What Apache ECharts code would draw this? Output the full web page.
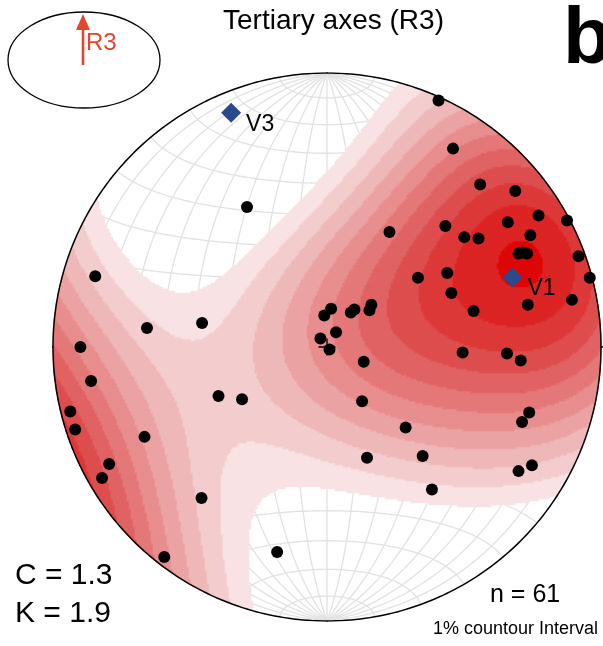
<!DOCTYPE html>
<html><head><meta charset="utf-8">
<script src="https://cdn.jsdelivr.net/npm/echarts@6/dist/echarts.min.js"></script>
<style>html,body{margin:0;padding:0;background:#fff}#c{width:603px;height:646px}</style>
</head><body><div id="c"></div>
<script>
// R3 axes: position in the lower-hemisphere equal-area net, in primitive radii (+x east, +y north)
const axisEast = [-0.292,-0.846,-0.657,-0.456,-0.900,0.407,0.460,0.559,0.687,0.772,0.876,0.660,0.742,0.432,0.501,0.553,0.699,0.715,0.730,0.918,0.959,0.228,0.332,0.439,0.454,0.733,0.894,0.535,0.162,0.155,0.100,0.087,0.015,-0.010,0.033,-0.024,0.009,0.495,0.657,0.707,0.134,0.128,0.287,0.738,0.712,0.146,0.349,0.748,0.699,0.383,-0.861,-0.937,-0.919,-0.666,-0.795,-0.821,-0.396,-0.310,-0.458,-0.594,-0.182];
const axisNorth = [0.511,0.258,0.069,0.088,0.000,0.900,0.724,0.593,0.569,0.480,0.462,0.455,0.408,0.442,0.401,0.396,0.341,0.345,0.341,0.331,0.253,0.420,0.253,0.270,0.197,0.154,0.172,0.131,0.154,0.134,0.137,0.126,0.140,0.115,0.054,0.031,-0.009,-0.020,-0.024,-0.049,-0.054,-0.198,-0.294,-0.239,-0.274,-0.404,-0.398,-0.432,-0.453,-0.520,-0.124,-0.235,-0.301,-0.328,-0.427,-0.478,-0.179,-0.191,-0.551,-0.766,-0.748];
const eigenLabels = ['V1','V3'];
const eigenEast = [0.677,-0.350];
const eigenNorth = [0.255,0.855];
const levelColors = ['#f8e2e3','#f3cdce','#efb8b8','#eba3a3','#e78e8e','#e47878','#e16363','#df4e4e','#dd3939','#dc2424','#de0707'];
const titleText = 'Tertiary axes (R3)';
const statLines = ['C = 1.3','K = 1.9'];
const countText = 'n = 61';
const intervalText = '1% countour Interval';

const KAPPA = 4, BASE = 0.733, STEP = 0.1054;
const N = 274;
const FONT = '"Liberation Sans", Arial, Helvetica, sans-serif';
const R = 274, CX = 327, CY = 347;

function vec(x, y) {
  const r2 = x * x + y * y;
  const f = Math.sqrt(Math.max(0, 2 - r2));
  return [x * f, y * f, Math.max(0, 1 - r2)];
}
function proj(v) {
  const f = 1 / Math.sqrt(1 + Math.max(0, v[2]));
  return [v[0] * f, v[1] * f];
}
const pts = axisEast.map((e, i) => vec(e, axisNorth[i]));
function density(x, y, k) {
  const u = vec(x, y);
  let s = 0;
  for (const v of pts) {
    const c = Math.abs(u[0] * v[0] + u[1] * v[1] + u[2] * v[2]);
    s += Math.exp(k * (c - 1));
  }
  return s * k / ((1 - Math.exp(-k)) * pts.length);
}

const netLines = [];
const deg = Math.PI / 180;
for (let d = 10; d <= 90; d += 10) {
  for (const s of (d === 90 ? [1] : [1, -1])) {
    const c = [];
    for (let t = 0; t <= 90; t++) {
      const p = t * 2 * deg;
      c.push(proj([Math.sin(p) * s * Math.cos(d * deg), Math.cos(p), Math.sin(p) * Math.sin(d * deg)]));
    }
    netLines.push({ coords: c });
  }
}
for (let a = 10; a <= 170; a += 10) {
  const c = [];
  for (let t = 0; t <= 90; t++) {
    const p = t * 2 * deg;
    c.push(proj([Math.sin(a * deg) * Math.cos(p), Math.cos(a * deg), Math.sin(a * deg) * Math.sin(p)]));
  }
  netLines.push({ coords: c });
}
function circle(r) {
  const c = [];
  for (let t = 0; t <= 360; t++) c.push([r * Math.cos(t * deg), r * Math.sin(t * deg)]);
  return c;
}

const cells = [];
for (let i = 0; i < N; i++) {
  for (let j = 0; j < N; j++) {
    const x = -1 + (2 * i + 1) / N, y = -1 + (2 * j + 1) / N;
    if (x * x + y * y > Math.pow(1 + 1 / N, 2)) continue;
    const d = density(x, y, KAPPA);
    if (d < BASE) continue;
    cells.push([i, j, Math.min(levelColors.length, 1 + Math.floor((d - BASE) / STEP))]);
  }
}

const cats = Array.from({ length: N }, (_, i) => i);
const chart = echarts.init(document.getElementById('c'), null, { renderer: 'canvas', width: 603, height: 646 });
chart.setOption({
  animation: false,
  backgroundColor: '#fff',
  grid: { left: CX - R, top: CY - R, width: 2 * R, height: 2 * R, containLabel: false },
  xAxis: [{ type: 'value', min: -1, max: 1, show: false }, { type: 'category', data: cats, show: false, position: 'top' }],
  yAxis: [{ type: 'value', min: -1, max: 1, show: false }, { type: 'category', data: cats, show: false, position: 'right' }],
  visualMap: { type: 'piecewise', show: false, seriesIndex: 1, dimension: 2, pieces: levelColors.map((c, i) => ({ value: i + 1, color: c })) },
  series: [
    { type: 'lines', coordinateSystem: 'cartesian2d', polyline: true, silent: true, z: 1, data: netLines, lineStyle: { color: '#e2e2e2', width: 1.3, opacity: 1 } },
    { type: 'heatmap', xAxisIndex: 1, yAxisIndex: 1, data: cells, z: 2, progressive: 0, silent: true, emphasis: { disabled: true } },
    { type: 'lines', coordinateSystem: 'cartesian2d', polyline: true, silent: true, z: 3, data: [{ coords: circle(1 + 3 / R) }], lineStyle: { color: '#fff', width: 4.5, opacity: 1 } },
    { type: 'lines', coordinateSystem: 'cartesian2d', polyline: true, silent: true, z: 4, data: [{ coords: circle(1) }], lineStyle: { color: '#000', width: 1.5, opacity: 1 } },
    { type: 'lines', coordinateSystem: 'cartesian2d', polyline: true, silent: true, z: 4,
      data: [{ coords: [[0, 1], [0, 1.042]] }, { coords: [[-1, 0], [-1.042, 0]] }, { coords: [[0, -1], [0, -1.042]] }, { coords: [[1, 0], [1.042, 0]] }],
      lineStyle: { color: '#000', width: 1.3, opacity: 1 } },
    { type: 'scatter', z: 5, symbol: 'circle', symbolSize: 12, itemStyle: { color: '#000', opacity: 1 }, data: axisEast.map((e, i) => [e, axisNorth[i]]) },
    { type: 'scatter', z: 6, symbol: 'path://M0,5L10,5M5,0L5,10', symbolSize: 17, itemStyle: { color: 'rgba(0,0,0,0)', borderColor: '#000', borderWidth: 1.3, opacity: 1 }, data: [[0, 0]] },
    { type: 'scatter', z: 7, symbol: 'diamond', symbolSize: 20, itemStyle: { color: '#2b4a8b', opacity: 1 },
      label: { show: true, formatter: '{b}', position: 'right', distance: 5, offset: [0, 12], fontSize: 23, color: '#000', fontFamily: FONT },
      data: eigenLabels.map((n, i) => ({ name: n, value: [eigenEast[i], eigenNorth[i]] })) }
  ],
  graphic: [
    { type: 'text', x: 333.5, y: 21, style: { text: titleText, font: '28px ' + FONT, fill: '#000', align: 'center', verticalAlign: 'middle' } },
    { type: 'text', x: 563, y: 41, style: { text: 'b', font: 'bold 80px ' + FONT, fill: '#000', align: 'left', verticalAlign: 'middle' } },
    { type: 'ellipse', shape: { cx: 84, cy: 60, rx: 76, ry: 48 }, style: { fill: 'none', stroke: '#000', lineWidth: 1.3 } },
    { type: 'line', shape: { x1: 83, y1: 65, x2: 83, y2: 28 }, style: { stroke: '#e4462d', lineWidth: 2.6 } },
    { type: 'polygon', shape: { points: [[83, 14], [76, 30], [90, 30]] }, style: { fill: '#e4462d' } },
    { type: 'text', x: 86, y: 43, style: { text: 'R3', font: '24px ' + FONT, fill: '#e4462d', align: 'left', verticalAlign: 'middle' } },
    { type: 'text', x: 15, y: 575.5, style: { text: statLines[0], font: '30px ' + FONT, fill: '#000', align: 'left', verticalAlign: 'middle' } },
    { type: 'text', x: 15, y: 613.5, style: { text: statLines[1], font: '30px ' + FONT, fill: '#000', align: 'left', verticalAlign: 'middle' } },
    { type: 'text', x: 490, y: 595.5, style: { text: countText, font: '25px ' + FONT, fill: '#000', align: 'left', verticalAlign: 'middle' } },
    { type: 'text', x: 433, y: 629.5, style: { text: intervalText, font: '18px ' + FONT, fill: '#000', align: 'left', verticalAlign: 'middle' } }
  ]
});
</script></body></html>
